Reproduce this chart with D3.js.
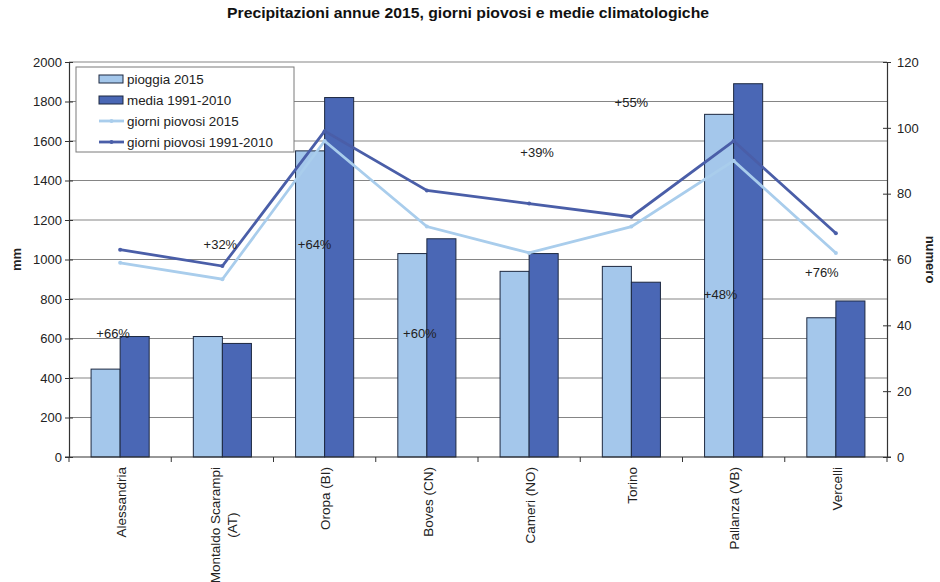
<!DOCTYPE html>
<html>
<head>
<meta charset="utf-8">
<script src="https://cdn.jsdelivr.net/npm/d3@7"></script>
<style>
  body { margin: 0; background: #fff; }
  svg { display: block; font-family: "Liberation Sans", Arial, sans-serif; }
</style>
</head>
<body>
<div id="chart"></div>
<script>
// dati
const categories = ["Alessandria", "Montaldo Scarampi (AT)", "Oropa (BI)", "Boves (CN)", "Cameri (NO)", "Torino", "Pallanza (VB)", "Vercelli"]
const tickLabels = [["Alessandria"], ["Montaldo Scarampi", "(AT)"], ["Oropa (BI)"], ["Boves (CN)"], ["Cameri (NO)"], ["Torino"], ["Pallanza (VB)"], ["Vercelli"]]
const pioggia2015 = [445, 610, 1550, 1030, 940, 965, 1735, 705]
const media19912010 = [610, 575, 1820, 1105, 1030, 885, 1890, 790]
const giorni2015 = [59, 54, 96, 70, 62, 70, 90, 62]
const giorni19912010 = [63, 58, 99, 81, 77, 73, 96, 68]
const mmTicks = [0, 200, 400, 600, 800, 1000, 1200, 1400, 1600, 1800, 2000]
const numTicks = [0, 20, 40, 60, 80, 100, 120]
const annotationLabels = ["+66%", "+32%", "+64%", "+60%", "+39%", "+55%", "+48%", "+76%"]
const annotationLevel = [628, 1078, 1078, 628, 1544, 1797, 825, 932]   // in mm
const annotationShift = [-7, -2, -10, -7, 8, 0, -13, -14]

const colors = {
  light: "#a4c7eb",
  dark: "#4a67b5",
  lineLight: "#a9cdec",
  lineDark: "#4a5ea8",
  edge: "#1d2840"
}

const width = 940, height = 582
const plot = { left: 69, right: 887, top: 62, bottom: 457 }

const svg = d3.select("#chart").append("svg")
  .attr("width", width)
  .attr("height", height)

// Scale
const x = d3.scaleBand().domain(categories).range([plot.left, plot.right])
const xSub = d3.scaleBand().domain(["p", "m"]).range([0, x.bandwidth()]).paddingOuter(0.76)
const yMm = d3.scaleLinear().domain([0, 2000]).range([plot.bottom, plot.top])
const yNum = d3.scaleLinear().domain([0, 120]).range([plot.bottom, plot.top])

// Titolo
svg.append("text")
  .attr("x", 468)
  .attr("y", 18)
  .attr("text-anchor", "middle")
  .attr("font-size", "14px")
  .attr("font-weight", "bold")
  .attr("fill", "#111")
  .attr("textLength", 482)
  .attr("lengthAdjust", "spacingAndGlyphs")
  .text("Precipitazioni annue 2015, giorni piovosi e medie climatologiche")

// Griglia
svg.append("g")
  .selectAll("line")
  .data(mmTicks.filter(d => d > 0))
  .join("line")
  .attr("x1", plot.left).attr("x2", plot.right)
  .attr("y1", d => yMm(d)).attr("y2", d => yMm(d))
  .attr("stroke", "#858585")
  .attr("stroke-width", 1)

// Barre
const groups = svg.append("g")
  .selectAll("g")
  .data(categories)
  .join("g")
  .attr("transform", d => `translate(${x(d)},0)`)

groups.append("rect")
  .attr("x", xSub("p"))
  .attr("width", xSub.bandwidth())
  .attr("y", (d, i) => yMm(pioggia2015[i]))
  .attr("height", (d, i) => yMm(0) - yMm(pioggia2015[i]))
  .attr("fill", colors.light)
  .attr("stroke", colors.edge)
  .attr("stroke-width", 1)

groups.append("rect")
  .attr("x", xSub("m"))
  .attr("width", xSub.bandwidth())
  .attr("y", (d, i) => yMm(media19912010[i]))
  .attr("height", (d, i) => yMm(0) - yMm(media19912010[i]))
  .attr("fill", colors.dark)
  .attr("stroke", colors.edge)
  .attr("stroke-width", 1)

// Assi
const axisLeft = d3.axisLeft(yMm).tickValues(mmTicks).tickFormat(d3.format("d")).tickSize(4).tickPadding(3)
const gLeft = svg.append("g").attr("transform", `translate(${plot.left},0)`).call(axisLeft)
const axisRight = d3.axisRight(yNum).tickValues(numTicks).tickFormat(d3.format("d")).tickSize(4).tickPadding(6)
const gRight = svg.append("g").attr("transform", `translate(${plot.right},0)`).call(axisRight)

;[gLeft, gRight].forEach(g => {
  g.select(".domain").attr("stroke", "#333").attr("stroke-width", 1.2)
  g.selectAll(".tick line").attr("stroke", "#333")
  g.selectAll(".tick text").attr("font-size", "13px").attr("fill", "#222")
    .attr("font-family", "Liberation Sans, Arial, sans-serif")
})
gLeft.selectAll(".tick line").attr("x2", 4).attr("x1", -4)
gRight.selectAll(".tick line").attr("x1", -4).attr("x2", 4)

// asse x
const gx = svg.append("g").attr("transform", `translate(0,${plot.bottom})`)
gx.append("line")
  .attr("x1", plot.left - 4).attr("x2", plot.right + 4)
  .attr("stroke", "#333").attr("stroke-width", 1.2)
gx.selectAll(".xtick")
  .data(d3.range(categories.length + 1))
  .join("line")
  .attr("class", "xtick")
  .attr("x1", i => plot.left + i * x.step())
  .attr("x2", i => plot.left + i * x.step())
  .attr("y1", 0).attr("y2", 5)
  .attr("stroke", "#333")

const xlab = gx.selectAll(".xlab")
  .data(categories)
  .join("text")
  .attr("class", "xlab")
  .attr("transform", d => `translate(${x(d) + x.bandwidth() / 2 + 1},10) rotate(-90)`)
  .attr("text-anchor", "end")
  .attr("font-size", "13.5px")
  .attr("fill", "#222")

xlab.each(function (d, i) {
  const lines = tickLabels[i]
  const el = d3.select(this)
  if (lines.length === 1) {
    el.append("tspan").attr("x", 0).attr("dy", "0.35em").text(lines[0])
  } else {
    // etichetta su due righe, centrata sulla riga più lunga
    el.attr("text-anchor", "middle")
    const spans = lines.map((t, k) => el.append("tspan")
      .attr("y", (k - (lines.length - 1) / 2) * 17)
      .attr("dy", "0.35em")
      .text(t))
    const w = d3.max(spans, s => s.node().getComputedTextLength())
    spans.forEach(s => s.attr("x", -w / 2))
  }
})

// Titoli assi
svg.append("text")
  .attr("transform", `translate(16,${(plot.top + plot.bottom) / 2}) rotate(-90)`)
  .attr("text-anchor", "middle")
  .attr("dy", "0.35em")
  .attr("font-size", "13px")
  .attr("font-weight", "bold")
  .attr("fill", "#222")
  .text("mm")

svg.append("text")
  .attr("transform", `translate(931,${(plot.top + plot.bottom) / 2}) rotate(90)`)
  .attr("text-anchor", "middle")
  .attr("dy", "0.35em")
  .attr("font-size", "13px")
  .attr("font-weight", "bold")
  .attr("fill", "#222")
  .text("numero")

// Linee giorni piovosi
const cx = d => x(d) + x.bandwidth() / 2
const lineSeries = [
  { values: giorni2015, color: colors.lineLight },
  { values: giorni19912010, color: colors.lineDark }
]
lineSeries.forEach(s => {
  const line = d3.line().x((d, i) => cx(categories[i])).y(d => yNum(d))
  svg.append("path")
    .attr("d", line(s.values))
    .attr("fill", "none")
    .attr("stroke", s.color)
    .attr("stroke-width", 2.8)
  svg.append("g").selectAll("circle")
    .data(s.values)
    .join("circle")
    .attr("cx", (d, i) => cx(categories[i]))
    .attr("cy", d => yNum(d))
    .attr("r", 2)
    .attr("fill", s.color)
})

// Annotazioni percentuali
svg.append("g").selectAll("text")
  .data(annotationLabels)
  .join("text")
  .attr("x", (d, i) => cx(categories[i]) + annotationShift[i])
  .attr("y", (d, i) => yMm(annotationLevel[i]))
  .attr("dy", "0.35em")
  .attr("text-anchor", "middle")
  .attr("font-size", "13px")
  .attr("fill", "#222")
  .text(d => d)

// Legenda
const legendItems = [
  { label: "pioggia 2015", type: "bar", color: colors.light },
  { label: "media 1991-2010", type: "bar", color: colors.dark },
  { label: "giorni piovosi 2015", type: "line", color: colors.lineLight },
  { label: "giorni piovosi 1991-2010", type: "line", color: colors.lineDark }
]
const legend = svg.append("g").attr("transform", "translate(76,67)")
legend.append("rect")
  .attr("width", 218).attr("height", 85)
  .attr("fill", "#fff")
  .attr("stroke", "#7a7a7a")
  .attr("stroke-width", 1)

const li = legend.selectAll(".li")
  .data(legendItems)
  .join("g")
  .attr("class", "li")
  .attr("transform", (d, i) => `translate(23,${12 + i * 21})`)

li.filter(d => d.type === "bar").append("rect")
  .attr("x", 0).attr("y", -4)
  .attr("width", 24).attr("height", 8)
  .attr("fill", d => d.color)
  .attr("stroke", colors.edge)

li.filter(d => d.type === "line").append("line")
  .attr("x1", 0).attr("x2", 25)
  .attr("stroke", d => d.color)
  .attr("stroke-width", 2.8)
li.filter(d => d.type === "line").append("circle")
  .attr("cx", 12.5).attr("r", 2)
  .attr("fill", d => d.color)

li.append("text")
  .attr("x", 28)
  .attr("dy", "0.35em")
  .attr("font-size", "13.4px")
  .attr("fill", "#222")
  .text(d => d.label)
</script>
</body>
</html>
